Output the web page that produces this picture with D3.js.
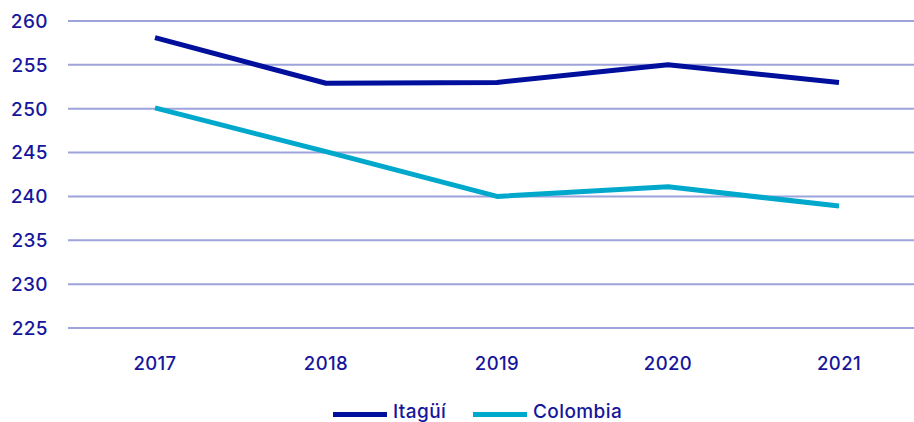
<!DOCTYPE html>
<html>
<head>
<meta charset="utf-8">
<script src="https://cdn.jsdelivr.net/npm/d3@7"></script>
<style>
  html, body { margin: 0; padding: 0; background: #fff; }
  svg { display: block; }
  text { font-family: Inter, "Open Sans", sans-serif; fill: #16169c; font-weight: 500; letter-spacing: 0.4px; }
</style>
</head>
<body>
<svg id="chart" width="914" height="422"></svg>
<script>
// Years on the x axis
const years = ["2017", "2018", "2019", "2020", "2021"];
// Series values
const itagui = [258.1, 252.9, 253.0, 255.0, 253.0];
const colombia = [250.1, 245.1, 240.0, 241.1, 238.9];
// Y axis ticks
const yTicks = [225, 230, 235, 240, 245, 250, 255, 260];
const seriesNames = ["Itagüí", "Colombia"];
const seriesColors = ["#000f9c", "#00a8cc"];

const svg = d3.select("#chart");

const x = d3.scalePoint()
  .domain(years)
  .range([155, 839]);

const y = d3.scaleLinear()
  .domain([225, 260])
  .range([328, 21]);

// Horizontal gridlines
svg.append("g")
  .selectAll("line")
  .data(yTicks)
  .join("line")
  .attr("x1", 68)
  .attr("x2", 914)
  .attr("y1", d => y(d))
  .attr("y2", d => y(d))
  .attr("stroke", "#9ea3db")
  .attr("stroke-width", 2);

// Y tick labels
svg.append("g")
  .selectAll("text")
  .data(yTicks)
  .join("text")
  .attr("x", 48)
  .attr("y", d => y(d))
  .attr("dy", "0.36em")
  .attr("text-anchor", "end")
  .attr("font-size", 19)
  .text(d => d);

// X tick labels
svg.append("g")
  .selectAll("text")
  .data(years)
  .join("text")
  .attr("x", d => x(d))
  .attr("y", 370)
  .attr("text-anchor", "middle")
  .attr("font-size", 18.5)
  .text(d => d);

// Lines
const line = d3.line()
  .x((d, i) => x(years[i]))
  .y(d => y(d));

[itagui, colombia].forEach((vals, k) => {
  svg.append("path")
    .datum(vals)
    .attr("d", line)
    .attr("fill", "none")
    .attr("stroke", seriesColors[k])
    .attr("stroke-width", 5)
    .attr("stroke-linejoin", "round");
});

// Legend
const legendX = [333, 473];
const legend = svg.append("g");
seriesNames.forEach((name, k) => {
  legend.append("line")
    .attr("x1", legendX[k])
    .attr("x2", legendX[k] + 54)
    .attr("y1", 414.5)
    .attr("y2", 414.5)
    .attr("stroke", seriesColors[k])
    .attr("stroke-width", 5);
  legend.append("text")
    .attr("x", legendX[k] + 60)
    .attr("y", 418)
    .attr("font-size", 19)
    .text(name);
});
</script>
</body>
</html>
